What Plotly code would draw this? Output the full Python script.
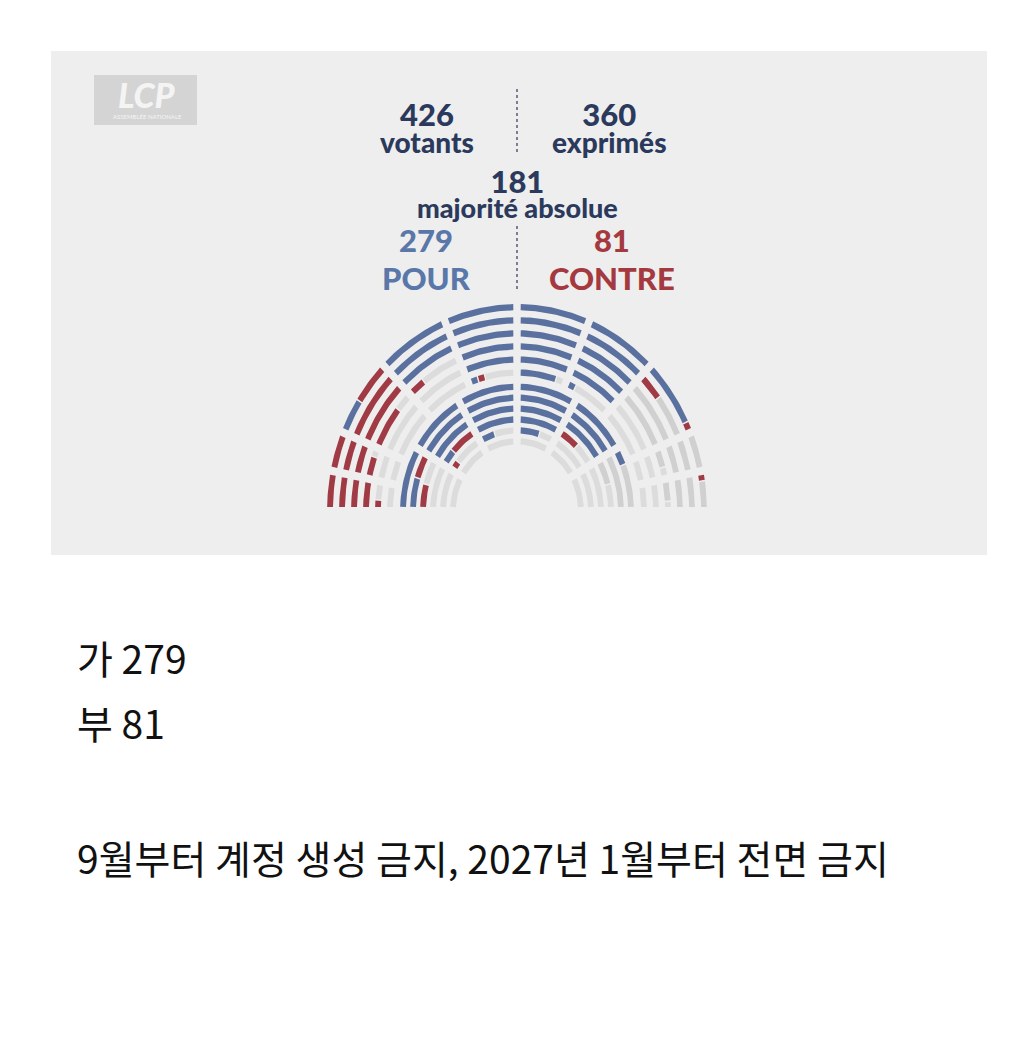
import math
import plotly.graph_objects as go

# ---------------- data ----------------
W, H = 1024, 1045
votants = 426
exprimes = 360
majorite = 181
pour_total = 279
contre_total = 81

# hemicycle sectors (left -> right): angle range in degrees, block
sector_names = ["O1a", "O1b", "O2", "O3", "O4", "O5", "O6", "O7", "O8a", "O8b",
                "I1", "I2", "I3", "I4", "I5", "I6"]
sector_a0 = [168.75, 157.5, 135, 112.5, 90, 67.5, 45, 22.5, 11.25, 0,
             150, 120, 90, 60, 30, 0]
sector_a1 = [180, 168.75, 157.5, 135, 112.5, 90, 67.5, 45, 22.5, 11.25,
             180, 150, 120, 90, 60, 30]
sector_block = ["outer"] * 10 + ["inner"] * 6

# seats per sector by vote
sector_pour = [0, 0, 4, 25, 40, 44, 40, 8, 0, 0, 12, 23, 30, 30, 21, 2]
sector_contre = [17, 16, 26, 2, 1, 0, 0, 4, 0, 1, 6, 5, 0, 0, 3, 0]
sector_abst = [0, 0, 0, 0, 0, 0, 0, 20, 15, 15, 0, 0, 0, 0, 0, 16]
sector_absent = [5, 7, 15, 18, 4, 1, 5, 13, 7, 7, 18, 8, 7, 6, 12, 18]

row_radii = {
    "outer": [187, 175, 163, 151, 139, 127],
    "inner": [114, 104, 94, 84, 74, 64],
}

vote_names = ["pour", "contre", "abst", "absent"]
vote_colors = {"pour": "#5a71a0", "contre": "#a03a44",
               "abst": "#d0d0d0", "absent": "#dcdcdc"}

# ---------------- geometry ----------------
CX, CY = 517, 511
SY = 1.09          # vertical stretch of the hemicycle
THICK = 5.8        # radial thickness of a seat
AISLE = 6.0        # linear aisle width between sectors
RUN_GAP = 1.4      # linear gap between runs of different colour


def distribute(n, weights):
    tot = sum(weights)
    raw = [n * w / tot for w in weights]
    base = [int(math.floor(v)) for v in raw]
    rest = n - sum(base)
    order = sorted(range(len(raw)), key=lambda i: raw[i] - base[i], reverse=True)
    for i in order[:rest]:
        base[i] += 1
    return base


def arc_poly(r, b0, b1):
    xs, ys = [], []
    ro, ri = r + THICK / 2, r - THICK / 2
    k = max(3, int(abs(b1 - b0) * r / 3))
    for j in range(k + 1):
        t = b0 + (b1 - b0) * j / k
        xs.append(CX + ro * math.cos(t))
        ys.append(CY - SY * ro * math.sin(t))
    for j in range(k + 1):
        t = b1 + (b0 - b1) * j / k
        xs.append(CX + ri * math.cos(t))
        ys.append(CY - SY * ri * math.sin(t))
    xs.append(xs[0]); ys.append(ys[0])
    return xs, ys


traces_xy = {v: ([], []) for v in vote_names}

for s in range(len(sector_names)):
    counts = [sector_pour[s], sector_contre[s], sector_abst[s], sector_absent[s]]
    n = sum(counts)
    a0 = math.radians(sector_a0[s])
    a1 = math.radians(sector_a1[s])
    radii = row_radii[sector_block[s]]
    spans = [(a1 - a0) - AISLE / r for r in radii]
    per_row = distribute(n, [r * sp for r, sp in zip(radii, spans)])
    colors = []
    for v, c in zip(vote_names, counts):
        colors += [v] * c
    idx = 0
    for r, sp, m in zip(radii, spans, per_row):
        start = a1 - AISLE / (2 * r)
        step = sp / m if m else 0
        row_cols = colors[idx:idx + m]
        idx += m
        # merge consecutive seats of the same colour into one bar
        runs = []
        for j, c in enumerate(row_cols):
            if runs and runs[-1][0] == c:
                runs[-1][2] = j + 1
            else:
                runs.append([c, j, j + 1])
        for c, j0, j1 in runs:
            t1 = start - j0 * step
            t0 = start - j1 * step
            g = RUN_GAP / (2 * r)
            xs, ys = arc_poly(r, t0 + g, t1 - g)
            traces_xy[c][0].extend(xs + [None])
            traces_xy[c][1].extend(ys + [None])

fig = go.Figure()
for v in ["absent", "abst", "pour", "contre"]:
    xs, ys = traces_xy[v]
    fig.add_trace(go.Scatter(x=xs, y=ys, mode="lines", fill="toself",
                             fillcolor=vote_colors[v], line=dict(width=0, color=vote_colors[v]),
                             hoverinfo="skip", showlegend=False))

# ---------------- decorations ----------------
shapes = [
    dict(type="rect", x0=51, x1=987, y0=51, y1=555, fillcolor="#eeeeee",
         line=dict(width=0), layer="below"),
    dict(type="rect", x0=94, x1=197, y0=75, y1=125, fillcolor="#d4d4d4",
         line=dict(width=0), layer="below"),
    dict(type="line", x0=517, x1=517, y0=89, y1=152,
         line=dict(color="#3c4660", width=1.3, dash="dot")),
    dict(type="line", x0=517, x1=517, y0=226, y1=290,
         line=dict(color="#3c4660", width=1.3, dash="dot")),
]

NAVY = "#2b3a5c"
BLUE = "#5a77a9"
RED = "#a43a3f"


def block(top, bottom, x, y, base, s_top, s_bot, color):
    txt = (f'<span style="font-size:{s_top}px">{top}</span><br>'
           f'<span style="font-size:{s_bot}px">{bottom}</span>')
    return dict(text=txt, x=x, y=y, xref="x", yref="y", showarrow=False,
                xanchor="center", yanchor="middle", align="center",
                font=dict(family="Lato", size=base, color=color, weight=900))


def ann(text, x, y, size, color, family="Lato", weight=900, xanchor="center"):
    return dict(text=text, x=x, y=y, xref="x", yref="y", showarrow=False,
                xanchor=xanchor, yanchor="middle",
                font=dict(family=family, size=size, color=color, weight=weight))


annotations = [
    block(str(votants), "votants", 427, 127, 21, 31, 28, NAVY),
    block(str(exprimes), "exprimés", 609, 127, 21, 31, 28, NAVY),
    block(str(majorite), "majorité absolue", 517, 193, 19, 31, 27, NAVY),
    block(str(pour_total), "POUR", 426, 259, 29, 31, 31, BLUE),
    block(str(contre_total), "CONTRE", 612, 259, 29, 31, 31, RED),
    dict(text="<i>LCP</i>", x=147, y=94, xref="x", yref="y", showarrow=False,
         xanchor="center", yanchor="middle",
         font=dict(family="Lato", size=34, color="#f4f4f4", weight=900)),
    dict(text="ASSEMBLÉE NATIONALE", x=147, y=116, xref="x", yref="y", showarrow=False,
         xanchor="center", yanchor="middle",
         font=dict(family="Lato", size=6, color="#f4f4f4")),
    ann("가 " + str(pour_total), 75, 657, 39, "#111111",
        family="Noto Sans CJK KR", weight=400, xanchor="left"),
    ann("부 " + str(contre_total), 75, 722, 39, "#111111",
        family="Noto Sans CJK KR", weight=400, xanchor="left"),
    ann("9월부터 계정 생성 금지, 2027년 1월부터 전면 금지", 75, 857, 39, "#111111",
        family="Noto Sans CJK KR", weight=400, xanchor="left"),
]

fig.update_layout(
    width=W, height=H, autosize=False,
    margin=dict(l=0, r=0, t=0, b=0),
    paper_bgcolor="#ffffff", plot_bgcolor="#ffffff",
    xaxis=dict(range=[0, W], visible=False, fixedrange=True),
    yaxis=dict(range=[H, 0], visible=False, fixedrange=True),
    shapes=shapes, annotations=annotations, showlegend=False,
)

fig.write_html("out.html")
